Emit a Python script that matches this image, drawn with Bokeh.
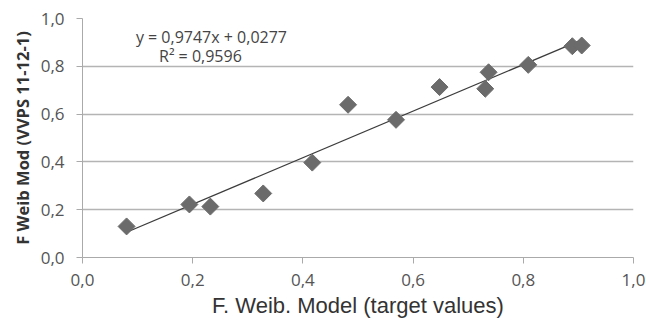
import math
from bokeh.plotting import figure
from bokeh.models import CustomJSTickFormatter, Label, FixedTicker, Range1d
from bokeh.embed import file_html
from bokeh.resources import INLINE

x_vals = [0.080, 0.194, 0.232, 0.328, 0.417, 0.482, 0.569, 0.648, 0.731, 0.737, 0.809, 0.889, 0.906]
y_vals = [0.130, 0.222, 0.213, 0.268, 0.397, 0.639, 0.576, 0.713, 0.706, 0.775, 0.806, 0.884, 0.887]
slope = 0.9747
intercept = 0.0277
ticks = [0.0, 0.2, 0.4, 0.6, 0.8, 1.0]
eq_text = "y = 0,9747x + 0,0277"
r2_text = "R² = 0,9596"
x_title = "F. Weib. Model (target values)"
y_title = "F Weib Mod (VVPS 11-12-1)"

p = figure(width=646, height=322, output_backend="svg", toolbar_location=None,
           x_range=Range1d(0, 1), y_range=Range1d(0, 1),
           min_border_left=82, min_border_right=13, min_border_top=18, min_border_bottom=65)
p.outline_line_color = None
p.background_fill_color = "white"
p.border_fill_color = "white"

fmt = CustomJSTickFormatter(code="return tick.toFixed(1).replace('.', ',');")
for ax in (p.xaxis[0], p.yaxis[0]):
    ax.ticker = FixedTicker(ticks=ticks)
    ax.formatter = fmt
    ax.minor_tick_line_color = None
    ax.major_label_text_font = "Open Sans"
    ax.major_label_text_font_size = "17px"
    ax.major_label_text_color = "#555555"
    ax.axis_line_color = "#aaaaaa"
    ax.major_tick_line_color = "#aaaaaa"
    ax.major_tick_out = 6
    ax.major_tick_in = 0

p.xaxis[0].major_label_standoff = 10
p.yaxis[0].major_label_standoff = 12

p.xaxis[0].axis_label = x_title
p.xaxis[0].axis_label_text_font = "Liberation Sans"
p.xaxis[0].axis_label_text_font_size = "22px"
p.xaxis[0].axis_label_text_font_style = "normal"
p.xaxis[0].axis_label_text_color = "#333333"
p.xaxis[0].axis_label_standoff = 4

p.yaxis[0].axis_label = y_title
p.yaxis[0].axis_label_text_font = "Open Sans"
p.yaxis[0].axis_label_text_font_size = "16.5px"
p.yaxis[0].axis_label_text_font_style = "bold"
p.yaxis[0].axis_label_text_color = "#333333"
p.yaxis[0].axis_label_standoff = 4

p.xgrid.grid_line_color = None
p.ygrid.grid_line_color = "#b4b4b4"
p.ygrid.grid_line_width = 1.3

x0, x1 = min(x_vals), max(x_vals)
p.line([x0, x1], [slope * x0 + intercept, slope * x1 + intercept], line_color="#3c3c3c", line_width=1.3)
p.scatter(x_vals, y_vals, marker="square", angle=math.pi / 4, size=12,
          fill_color="#6b6b6b", line_color="#6b6b6b")

p.add_layout(Label(x=0.234, y=0.921, text=eq_text, text_align="center", text_baseline="middle",
                   text_font="Open Sans", text_font_size="16px", text_color="#444444"))
p.add_layout(Label(x=0.214, y=0.845, text=r2_text, text_align="center", text_baseline="middle",
                   text_font="Open Sans", text_font_size="16px", text_color="#444444"))

open("out.html", "w").write(file_html(p, INLINE))
